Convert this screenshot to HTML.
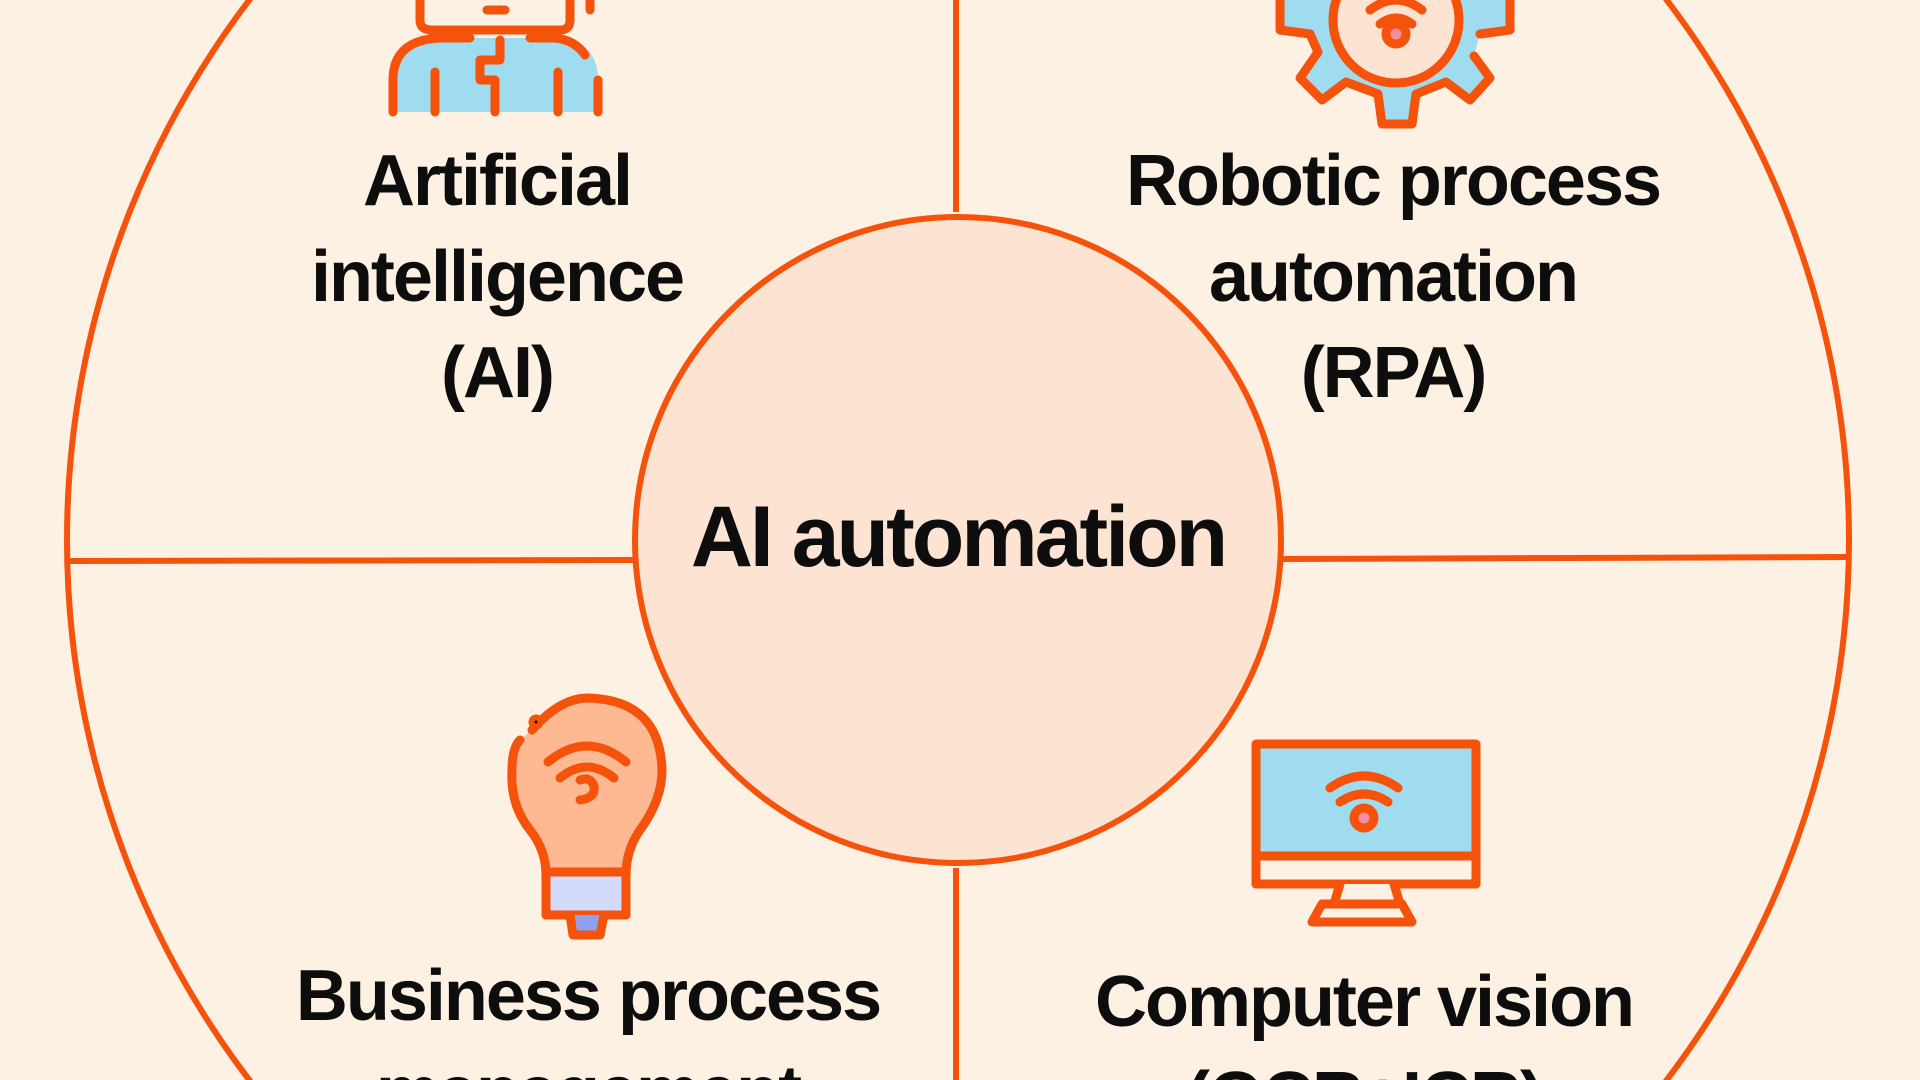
<!DOCTYPE html>
<html><head><meta charset="utf-8"><style>
html,body{margin:0;padding:0;background:#fdf1e4;width:1920px;height:1080px;overflow:hidden}
svg{display:block}
text{font-family:"Liberation Sans",sans-serif;font-weight:bold;fill:#0d0d0d;text-anchor:middle;letter-spacing:-2px}
</style></head><body>
<svg width="1920" height="1080" viewBox="0 0 1920 1080">
<rect width="1920" height="1080" fill="#fdf1e4"/>
<circle cx="958" cy="540" r="891" fill="none" stroke="#f5520c" stroke-width="6"/>
<line x1="956" y1="0" x2="956" y2="212" stroke="#f5520c" stroke-width="6"/>
<line x1="956" y1="868" x2="956" y2="1080" stroke="#f5520c" stroke-width="6"/>
<line x1="67" y1="561" x2="636" y2="560" stroke="#f5520c" stroke-width="6"/>
<line x1="1281" y1="559" x2="1849" y2="557" stroke="#f5520c" stroke-width="6"/>
<circle cx="958" cy="540" r="323" fill="#fde3d2" stroke="#f5520c" stroke-width="6"/>
<text x="958" y="566" font-size="86" style="letter-spacing:-3px">AI automation</text>

<g font-size="72">
<text x="497" y="205">Artificial</text>
<text x="497" y="301">intelligence</text>
<text x="497" y="397">(AI)</text>
<text x="1393" y="205">Robotic process</text>
<text x="1393" y="301">automation</text>
<text x="1393" y="397">(RPA)</text>
<text x="588" y="1020">Business process</text>
<text x="588" y="1116">management</text>
<text x="1364" y="1026">Computer vision</text>
<text x="1364" y="1122">(OCR+ICR)</text>
</g>

<!-- AI person -->
<g stroke="#f5520c" stroke-width="9" stroke-linecap="round" stroke-linejoin="round" fill="none">
<path d="M393 112 V80 Q393 40 440 38 H555 Q598 40 598 80 V112 Z" fill="#a0dcf0" stroke="none"/>
<path d="M393 112 V80 Q393 40 440 38 H470"/>
<path d="M530 38 H555 Q575 40 585 55"/>
<path d="M598 80 V112"/>
<path d="M420 0 V20 Q420 30 432 30 H560 Q570 30 570 20 V0"/>
<line x1="487" y1="10" x2="505" y2="10"/>
<path d="M500 40 V60 H480 V80 H495 V112"/>
<line x1="435" y1="72" x2="435" y2="112"/>
<line x1="558" y1="72" x2="558" y2="112"/>
<line x1="590" y1="0" x2="590" y2="10"/>
</g>

<!-- Gear -->
<g stroke="#f5520c" stroke-width="9" stroke-linejoin="round" stroke-linecap="round">
<path d="M1280 0 V30 L1310 34 L1318 52 L1300 78 L1322 100 L1346 82 L1378 94 L1382 124 H1412 L1416 94 L1446 82 L1470 100 L1490 78 L1474 56 L1480 34 L1510 30 V0 Z" fill="#a0dcf0" stroke="none"/>
<path d="M1280 0 V30 L1310 34 L1318 52 L1300 78 L1322 100 L1346 82 L1378 94 L1382 124 H1412 L1416 94 L1446 82 L1470 100 L1490 78 L1474 56" fill="none"/>
<path d="M1480 34 L1510 30 V0" fill="none"/>
<circle cx="1396" cy="20" r="63" fill="#fde3d2"/>
<path d="M1370 10 Q1396 -10 1422 10 M1380 24 Q1396 12 1412 24" fill="none"/>
<circle cx="1396" cy="34" r="10" fill="#f58fa0"/>
</g>

<!-- Bulb -->
<g stroke="#f5520c" stroke-width="9" stroke-linecap="round" stroke-linejoin="round">
<path d="M532 730 Q560 698 588 698 Q660 700 662 770 Q662 800 640 830 Q626 850 626 875 V915 H546 V875 Q546 850 530 830 Q510 805 512 770 Q512 748 520 740" fill="#feb892"/>
<rect x="546" y="872" width="80" height="43" fill="#d4dafc"/>
<path d="M570 915 L573 935 H600 L604 915" fill="#8fa0f0"/>
<line x1="556" y1="872" x2="582" y2="872" fill="none"/>
<path d="M548 762 Q587 730 626 762 M560 778 Q587 756 614 778" fill="none"/>
<path d="M580 800 Q596 798 594 786 Q590 776 580 780" fill="none"/>
<circle cx="536" cy="722" r="3"/>
</g>

<!-- Monitor -->
<g stroke="#f5520c" stroke-width="9" stroke-linecap="round" stroke-linejoin="round">
<rect x="1256" y="744" width="220" height="140" fill="#a0dcf0"/>
<rect x="1256" y="856" width="220" height="28" fill="#fdf1e4"/>
<line x1="1275" y1="856" x2="1470" y2="856"/>
<path d="M1340 884 L1334 904 H1400 L1394 884" fill="#fdf1e4"/>
<path d="M1322 904 L1312 922 H1412 L1402 904 Z" fill="#fdf1e4"/>
<path d="M1330 788 Q1364 764 1398 788 M1340 802 Q1364 786 1388 802" fill="none"/>
<circle cx="1364" cy="818" r="10" fill="#f58fa0"/>
</g>
</svg>
</body></html>
